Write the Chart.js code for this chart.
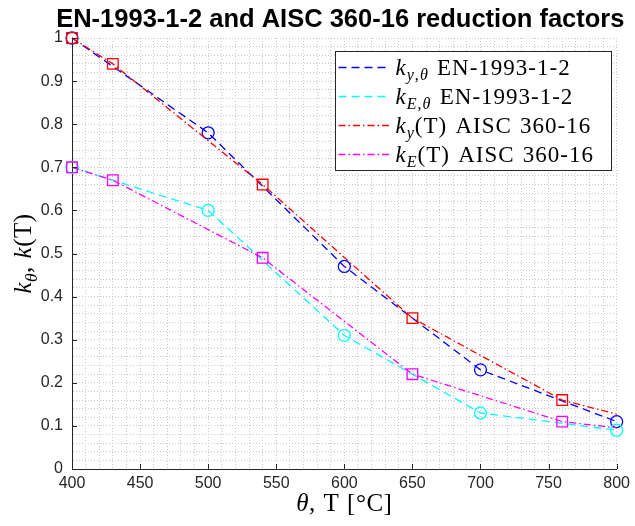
<!DOCTYPE html>
<html><head><meta charset="utf-8">
<script src="https://cdn.jsdelivr.net/npm/chart.js@4.4.1/dist/chart.umd.min.js"></script>
<style>html,body{margin:0;padding:0;background:#fff;}</style>
</head><body>
<canvas id="c" width="635" height="526"></canvas>
<script>
// ---- data ----
const titleText = 'EN-1993-1-2 and AISC 360-16 reduction factors';
const xAxisTitle = 'θ, T [°C]';
const yAxisTitle = 'k_{θ}, k(T)';
const seriesLabels = ['k_{y,θ} EN-1993-1-2', 'k_{E,θ} EN-1993-1-2', 'k_{y}(T) AISC 360-16', 'k_{E}(T) AISC 360-16'];
const enTemps = [400, 500, 600, 700, 800];
const enKy = [1.00, 0.78, 0.47, 0.23, 0.11];
const enKE = [0.70, 0.60, 0.31, 0.13, 0.09];
const aiscTemps = [400, 430, 540, 650, 760, 870];
const aiscKy = [1.00, 0.94, 0.66, 0.35, 0.16, 0.07];
const aiscKE = [0.70, 0.67, 0.49, 0.22, 0.11, 0.07];
const xMajorTicks = [400, 450, 500, 550, 600, 650, 700, 750, 800];
const yMajorTicks = [0, 0.1, 0.2, 0.3, 0.4, 0.5, 0.6, 0.7, 0.8, 0.9, 1];

const AX = '#262626';
const pts = (xs, ys) => xs.map((x, i) => ({x, y: ys[i]}));
const enStyle = (col) => ({borderColor: col, borderWidth: 1.3, borderDash: [8, 5], pointStyle: 'circle', pointRadius: 6,
  pointBorderColor: col, pointBackgroundColor: 'rgba(0,0,0,0)', pointBorderWidth: 1.3, showLine: true, clip: false});
const aiscStyle = (col) => ({borderColor: col, borderWidth: 1.3, borderDash: [7, 3, 1.5, 3], pointStyle: 'rect', pointRadius: 7.5,
  pointBorderColor: col, pointBackgroundColor: 'rgba(0,0,0,0)', pointBorderWidth: 1.3, showLine: true,
  clip: {left: false, top: false, bottom: false, right: 0}});

const datasets = [
  Object.assign({label: seriesLabels[0], data: pts(enTemps, enKy), order: 4}, enStyle('#0000ff')),
  Object.assign({label: seriesLabels[1], data: pts(enTemps, enKE), order: 3}, enStyle('#00ffff')),
  Object.assign({label: seriesLabels[2], data: pts(aiscTemps, aiscKy), order: 2}, aiscStyle('#ff0000')),
  Object.assign({label: seriesLabels[3], data: pts(aiscTemps, aiscKE), order: 1}, aiscStyle('#ff00ff')),
];

// ---- rich text (italic math letters, subscripts) ----
function parseRich(s) {
  const segs = []; let i = 0;
  while (i < s.length) {
    if (s[i] === '_' && s[i + 1] === '{') { const j = s.indexOf('}', i); segs.push({t: s.slice(i + 2, j), sub: true}); i = j + 1; }
    else { let j = i; while (j < s.length && !(s[j] === '_' && s[j + 1] === '{')) j++; segs.push({t: s.slice(i, j), sub: false}); i = j; }
  }
  const runs = [];
  for (const sg of segs) for (const ch of sg.t) {
    const sp = ch === ' ';
    const it = sg.sub ? /[A-Za-zθ]/.test(ch) : /[a-zθ]/.test(ch); const last = runs[runs.length - 1];
    if (last && !sp && !last.sp && last.sub === sg.sub && last.it === it) last.t += ch; else runs.push({t: ch, sub: sg.sub, it, sp});
  }
  return runs;
}
function drawRich(ctx, s, x, y, size, align, spacing, extraSpace) {
  const runs = parseRich(s);
  const fontFor = r => `${r.it ? 'italic ' : ''}${r.sub ? size * 0.7 : size}px "Liberation Serif"`;
  ctx.letterSpacing = (spacing || 0) + 'px';
  const adv = r => { ctx.font = fontFor(r); return ctx.measureText(r.t).width + (r.sp ? (extraSpace || 0) : 0); };
  let w = 0; for (const r of runs) w += adv(r);
  let cx = align === 'center' ? x - w / 2 : x;
  ctx.textAlign = 'left'; ctx.textBaseline = 'alphabetic';
  for (const r of runs) { ctx.font = fontFor(r); if (!r.sp) ctx.fillText(r.t, cx, r.sub ? y + size * 0.22 : y); cx += adv(r); }
  ctx.letterSpacing = '0px';
}

const overlay = {
  id: 'overlay',
  afterDatasetsDraw(chart) {
    const {ctx, chartArea: a, scales: {x, y}} = chart;
    ctx.save(); ctx.strokeStyle = AX; ctx.lineWidth = 1; ctx.setLineDash([]);
    ctx.beginPath();
    for (const v of xMajorTicks) { const px = Math.round(x.getPixelForValue(v)) + 0.5; ctx.moveTo(px, a.bottom); ctx.lineTo(px, a.bottom - 5); }
    for (const v of yMajorTicks) { const py = Math.round(y.getPixelForValue(v)) + 0.5; ctx.moveTo(a.left, py); ctx.lineTo(a.left + 5, py); }
    ctx.stroke(); ctx.restore();
  },
  afterDraw(chart) {
    const {ctx, chartArea: a} = chart;
    ctx.save(); ctx.fillStyle = '#000';
    // title
    ctx.font = 'bold 25.5px "Liberation Sans"'; ctx.textAlign = 'center'; ctx.textBaseline = 'alphabetic';
    ctx.fillText(titleText, (a.left + a.right) / 2 - 4, 27);
    // axis titles
    drawRich(ctx, xAxisTitle, (a.left + a.right) / 2, 511, 25, 'center', 0.5, 1);
    ctx.save(); ctx.translate(31, (a.top + a.bottom) / 2); ctx.rotate(-Math.PI / 2);
    drawRich(ctx, yAxisTitle, 0, 0, 25, 'center', 0.5, 1); ctx.restore();
    // legend
    const bw = 276, bh = 119; const bx = Math.round(a.right - 6 - bw) + 0.5, by = Math.round(a.top + 13) + 0.5;
    ctx.fillStyle = '#fff'; ctx.fillRect(bx, by, bw, bh);
    ctx.strokeStyle = AX; ctx.lineWidth = 1; ctx.strokeRect(bx, by, bw, bh);
    chart.data.datasets.forEach((ds, i) => {
      const ry = by + 16 + i * 29;
      ctx.save(); ctx.strokeStyle = ds.borderColor; ctx.lineWidth = ds.borderWidth; ctx.setLineDash(ds.borderDash);
      ctx.beginPath(); ctx.moveTo(bx + 3, ry); ctx.lineTo(bx + 55, ry); ctx.stroke();
      ctx.setLineDash([]); ctx.lineWidth = ds.pointBorderWidth;
      Chart.helpers.drawPoint(ctx, {pointStyle: ds.pointStyle, rotation: 0, borderWidth: ds.pointBorderWidth}, bx + 29, ry, ds.pointRadius);
      ctx.restore();
      ctx.fillStyle = '#000';
      drawRich(ctx, ds.label, bx + 60, ry + 7, 23, 'left', 1.0, 1.5);
    });
    ctx.restore();
  }
};

new Chart(document.getElementById('c'), {
  type: 'scatter',
  data: {datasets},
  plugins: [overlay],
  options: {
    responsive: false, animation: false, devicePixelRatio: 1,
    layout: {padding: {left: 0, right: 14, top: 38, bottom: 0}},
    plugins: {legend: {display: false}, tooltip: {enabled: false}, title: {display: false}},
    scales: {
      x: {type: 'linear', min: 400, max: 800,
        ticks: {stepSize: 10, autoSkip: false, maxRotation: 0, padding: 5, color: AX,
          font: {family: 'Liberation Sans', size: 16}, callback: v => xMajorTicks.includes(v) ? String(v) : ''},
        grid: {color: '#c8c8c8', lineWidth: 1, drawTicks: false},
        border: {display: true, color: AX, width: 1, dash: [1, 2]},
        afterFit(s) { s.height = 57; }},
      y: {type: 'linear', min: 0, max: 1,
        ticks: {stepSize: 0.02, autoSkip: false, padding: 9, color: AX,
          font: {family: 'Liberation Sans', size: 16},
          callback: v => { const r = Math.round(v * 100); return yMajorTicks.includes(r / 100) ? String(r / 100) : ''; }},
        grid: {color: '#c8c8c8', lineWidth: 1, drawTicks: false},
        border: {display: true, color: AX, width: 1, dash: [1, 2]},
        afterFit(s) { s.width = 72; }}
    }
  }
});
</script>
</body></html>
